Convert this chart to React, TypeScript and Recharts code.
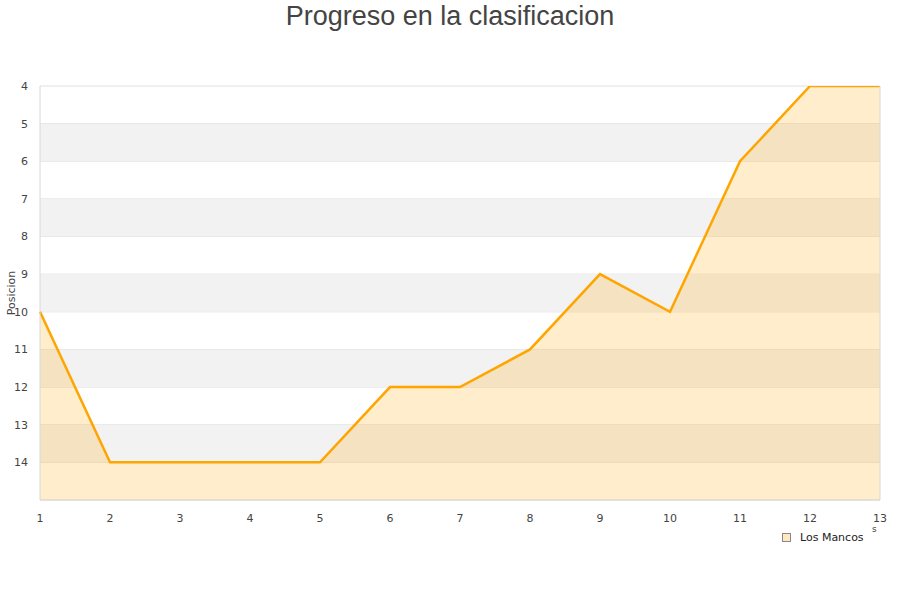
import React from 'react';
import { ComposedChart, Area, XAxis, YAxis, CartesianGrid, ReferenceArea, ReferenceLine } from 'recharts';

const jornadas = [1, 2, 3, 4, 5, 6, 7, 8, 9, 10, 11, 12, 13];
const posiciones = [10, 14, 14, 14, 14, 12, 12, 11, 9, 10, 6, 4, 4];
const yTicks = [4, 5, 6, 7, 8, 9, 10, 11, 12, 13, 14];
const grayBands = [[5, 6], [7, 8], [9, 10], [11, 12], [13, 14]];
const seriesName = 'Los Mancos';
const title = 'Progreso en la clasificacion';
const yLabel = 'Posicion';

const data = jornadas.map((j, i) => ({ j, pos: posiciones[i] }));

const FONT = '"DejaVu Sans", sans-serif';

export default function App() {
  return (
    <div style={{ position: 'absolute', left: 0, top: 0, width: 900, height: 600, background: '#fff' }}>
      <div style={{ position: 'absolute', left: 0, top: 0, width: 900, textAlign: 'center', fontFamily: '"Liberation Sans", Arial, sans-serif', fontSize: 27, color: '#444', lineHeight: '32px' }}>
        {title}
      </div>
      <ComposedChart width={900} height={600} data={data} margin={{ top: 86, right: 20, bottom: 0, left: 0 }}>
        {grayBands.map(([a, b]) => (
          <ReferenceArea key={a} y1={a} y2={b} fill="#f2f2f2" fillOpacity={1} stroke="none" ifOverflow="visible" />
        ))}
        <CartesianGrid vertical={false} stroke="#e0e0e0" strokeDasharray="" />
        <XAxis dataKey="j" type="number" domain={[1, 13]} ticks={jornadas} height={100} tickLine={false}
          axisLine={{ stroke: '#d8d8d8' }} tickMargin={8} interval={0}
          tick={{ fontSize: 11, fill: '#444', fontFamily: FONT }} />
        <YAxis type="number" domain={[4, 15]} ticks={yTicks} reversed width={40} tickLine={false}
          axisLine={{ stroke: '#d8d8d8' }} tickMargin={6} interval={0} allowDataOverflow
          tick={{ fontSize: 11, fill: '#444', fontFamily: FONT }}
          label={{ value: yLabel, angle: -90, position: 'center', dx: -9, style: { fontSize: 11, fill: '#444', fontFamily: FONT } }} />
        <ReferenceLine x={13} stroke="#d8d8d8" />
        <Area type="linear" dataKey="pos" baseValue={15} stroke="#FFA500" strokeWidth={2.5} fill="#FFA500" fillOpacity={0.2}
          isAnimationActive={false} dot={false} activeDot={false} />
      </ComposedChart>
      <div style={{ position: 'absolute', left: 782, top: 531, display: 'flex', alignItems: 'center', fontFamily: FONT, fontSize: 11, color: '#222' }}>
        <span style={{ display: 'inline-block', width: 7, height: 7, border: '1px solid #888', background: '#ffe8c0', marginRight: 9 }} />
        <span>{seriesName}</span>
      </div>
      <div style={{ position: 'absolute', left: 872, top: 524, fontFamily: FONT, fontSize: 9, color: '#444' }}>s</div>
    </div>
  );
}
